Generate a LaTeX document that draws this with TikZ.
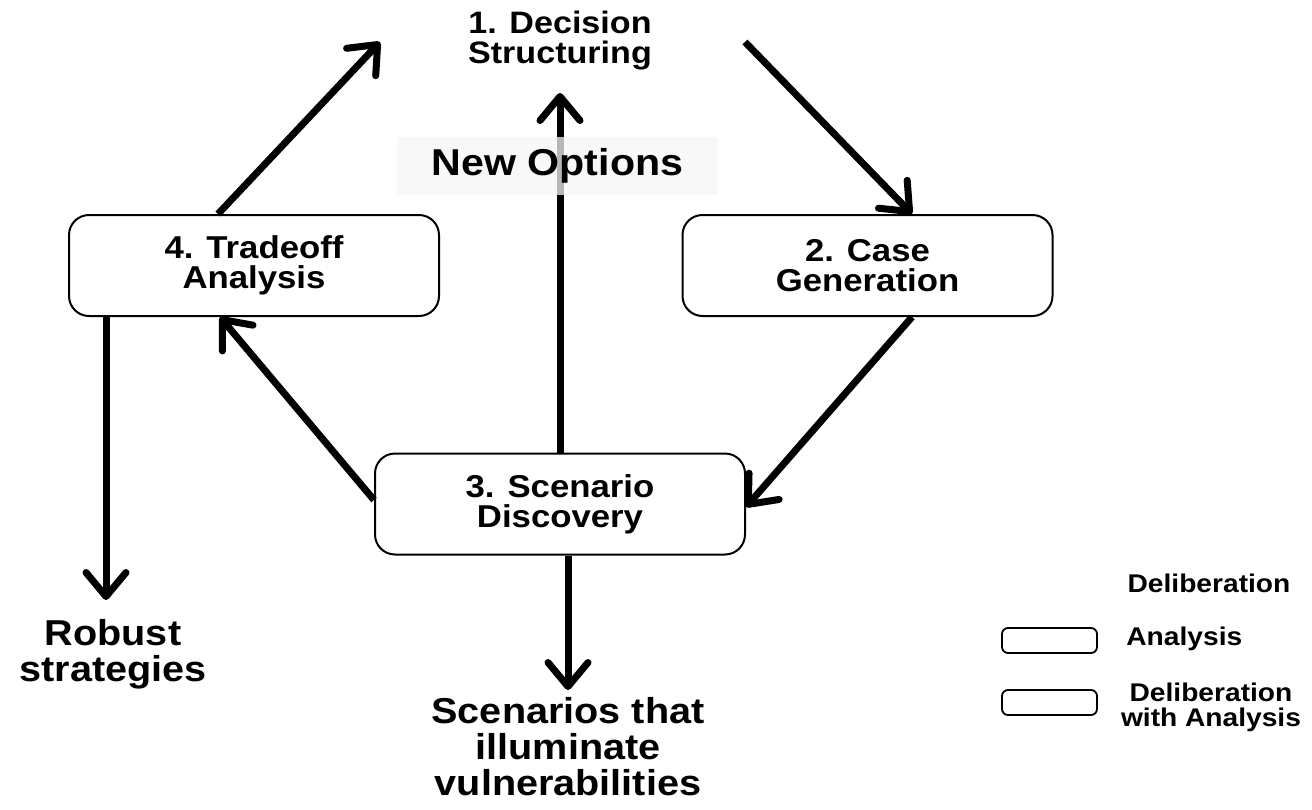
\documentclass[tikz,border=0pt]{standalone}
\usepackage{fontspec}
\setmainfont{Liberation Sans}[FakeStretch=1.1]
\usetikzlibrary{arrows.meta,calc}
\tikzset{
  box/.style={draw=black, line width=1pt, rounded corners=10pt, minimum width=185pt, minimum height=50.5pt, align=center, inner sep=0pt, font=\bfseries\fontsize{15.8}{15}\selectfont},
  lbox/.style={draw=black, line width=0.9pt, rounded corners=3pt, minimum width=47.5pt, minimum height=12.5pt, inner sep=0pt},
  arr/.style={line width=3.5pt, -{Straight Barb[length=12pt, width=20pt, round]}},
  outtext/.style={align=center, inner sep=0pt, font=\bfseries\fontsize{18}{18}\selectfont},
  legtext/.style={inner sep=0pt, font=\bfseries\fontsize{12.8}{12.5}\selectfont},
}
\begin{document}
\begin{tikzpicture}[x=0.5pt, y=-0.5pt]
\useasboundingbox (0,0) rectangle (1312,809);
% main boxes
\node[box] (b4) at (254,265.5) {4. Tradeoff\\Analysis};
\node[box] (b2) at (867.5,265.5) {2. Case\\Generation};
\node[box] (b3) at (560,504) {3. Scenario\\Discovery};
% labels
\node[align=center, inner sep=0pt, font=\bfseries\fontsize{15.5}{15}\selectfont] (d1) at (560,41) {1. Decision\\Structuring};
\node[outtext] (rs) at (113,654) {Robust\\strategies};
\node[outtext] (sv) at (568,747) {Scenarios that\\illuminate\\vulnerabilities};
% coordinates for free ends
\coordinate (t1) at (380,42);
\coordinate (s2) at (745,42);
\coordinate (t5) at (560,93);
\coordinate (t6) at (106,600);
\coordinate (t7) at (568,690);
% arrows
\draw[arr] ($(b4.north)+(-36,0)$) -- (t1);
\draw[arr] (s2) -- ($(b2.north)+(44.5,0)$);
\draw[arr] ($(b2.south)+(44.5,0)$) -- ($(b3.east)+(0,3)$);
\draw[arr] ($(b3.west)+(0,-4)$) -- ($(b4.south)+(-34,0)$);
\draw[arr] (b3.north) -- (t5);
\draw[arr] ($(b4.south)+(-148,0)$) -- (t6);
\draw[arr] ($(b3.south)+(8,0)$) -- (t7);
% New Options label over the arrow
\node[fill={rgb,255:red,245;green,245;blue,245}, fill opacity=0.75, text opacity=1, minimum width=160.5pt, minimum height=29pt, inner sep=0pt, font=\bfseries\fontsize{18.7}{18}\selectfont] (no) at (557.5,166) {New Options};
% legend
\node[legtext, anchor=base] (lg1) at (1209,592) {Deliberation};
\node[lbox] (lb1) at (1049.5,640.5) {};
\node[legtext, anchor=base west] (lg2) at (1126,645) {Analysis};
\node[lbox] (lb2) at (1049.5,702.5) {};
\node[legtext, align=center] (lg3) at (1211,707) {Deliberation\\with Analysis};
\end{tikzpicture}
\end{document}
